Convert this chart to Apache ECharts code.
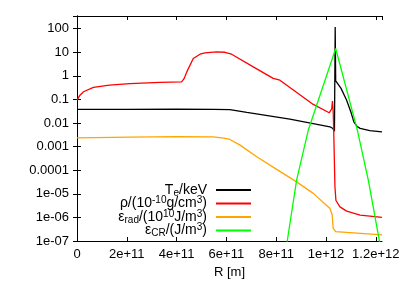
<!DOCTYPE html>
<html>
<head>
<meta charset="utf-8">
<script src="https://cdn.jsdelivr.net/npm/echarts@6/dist/echarts.min.js"></script>
<style>
html,body{margin:0;padding:0;background:#fff;}
#chart{width:407px;height:285px;}
</style>
</head>
<body>
<div id="chart"></div>
<script>
// ---- data (x in metres) ----
const teX = [0, 2.0e11, 4.0e11, 5.5e11, 6.14e11, 6.82e11, 8.55e11, 10.16e11, 10.28e11, 10.34e11, 10.37e11, 10.39e11, 10.60e11, 10.83e11, 11.0e11, 11.12e11, 11.24e11, 11.37e11, 11.76e11, 12.25e11];
const teY = [0.0373, 0.0380, 0.0385, 0.0378, 0.0366, 0.028, 0.0145, 0.0069, 0.0058, 0.0045, 117, 0.61, 0.30, 0.092, 0.029, 0.0111, 0.0073, 0.0059, 0.0047, 0.0042];

const rhoX = [0, 0.12e11, 0.26e11, 0.66e11, 1.3e11, 2.13e11, 3.33e11, 4.20e11, 4.30e11, 4.41e11, 4.67e11, 4.94e11, 5.14e11, 5.61e11, 5.94e11, 6.21e11, 7.08e11, 7.88e11, 8.15e11, 8.55e11, 9.49e11, 10.13e11, 10.23e11, 10.26e11, 10.29e11, 10.31e11, 10.36e11, 10.40e11, 10.56e11, 10.83e11, 11.37e11, 12.25e11];
const rhoY = [0.093, 0.15, 0.21, 0.32, 0.40, 0.46, 0.52, 0.55, 0.75, 1.46, 5.4, 8.2, 9.4, 10.2, 9.9, 8.2, 2.37, 0.77, 0.65, 0.32, 0.061, 0.027, 0.040, 0.084, 0.03, 0.005, 2.0e-5, 5.2e-6, 2.8e-6, 1.85e-6, 1.26e-6, 1.0e-6];

const radX = [0, 2.13e11, 4.0e11, 5.47e11, 5.9e11, 6.14e11, 6.55e11, 7.22e11, 8.02e11, 8.82e11, 9.49e11, 10.16e11, 10.25e11, 10.29e11, 10.39e11, 12.25e11];
const radY = [0.00234, 0.0025, 0.00263, 0.00259, 0.0023, 0.0020, 0.00115, 3.7e-4, 1.08e-4, 3.2e-5, 1.04e-5, 2.4e-6, 1.26e-6, 3.4e-7, 2.5e-7, 1.8e-7];

const crX = [8.30e11, 8.45e11, 8.82e11, 9.29e11, 10.39e11, 11.26e11, 11.70e11, 12.14e11, 12.25e11];
const crY = [1.6e-8, 1.1e-7, 3.8e-5, 0.005, 14.3, 0.005, 3.8e-5, 1.1e-7, 2.6e-8];

const xTickValues = [0, 2e11, 4e11, 6e11, 8e11, 1e12, 1.2e12];
const xTickLabels = ['0', '2e+11', '4e+11', '6e+11', '8e+11', '1e+12', '1.2e+12'];
const yTickLabels = ['1e-07', '1e-06', '1e-05', '0.0001', '0.001', '0.01', '0.1', '1', '10', '100'];

const seriesNames = ['Te', 'rho', 'rad', 'cr'];
const legendRich = {
  Te: 'T{sub|e}/keV',
  rho: 'ρ/(10{sup|-10}g/cm{sup|3})',
  rad: 'ε{sub|rad}/(10{sup|10}J/m{sup|3})',
  cr: 'ε{sub|CR}/(J/m{sup|3})'
};
const colors = ['#000000', '#ff0000', '#ffa500', '#00ff00'];

function pairs(xs, ys) { return xs.map((x, i) => [x, ys[i]]); }

const FONT = 'Liberation Sans';
const chart = echarts.init(document.getElementById('chart'), null, {renderer: 'canvas'});

const axisLineStyle = {show: true, lineStyle: {color: '#000', width: 1}};
const tickStyle = {show: true, inside: true, length: 4, lineStyle: {color: '#000', width: 1}};

function xLabel(v) {
  for (let i = 0; i < xTickValues.length; i++) {
    if (Math.abs(v - xTickValues[i]) < 1e6) return xTickLabels[i];
  }
  return '';
}
function yLabel(v) {
  const l = Math.log10(v);
  const e = Math.round(l);
  if (Math.abs(l - e) > 1e-6) return '';
  const idx = e + 7;
  return (idx >= 0 && idx < yTickLabels.length) ? yTickLabels[idx] : '';
}

const option = {
  backgroundColor: '#fff',
  animation: false,
  textStyle: {fontFamily: FONT},
  grid: {left: 77, right: 25, top: 16, bottom: 44, containLabel: false, outerBoundsMode: 'none'},
  legend: {
    data: seriesNames,
    orient: 'vertical',
    align: 'right',
    right: 156,
    top: 182,
    padding: 0,
    itemWidth: 35,
    itemHeight: 2,
    itemGap: -2.5,
    icon: 'rect',
    selectedMode: false,
    formatter: function (name) { return legendRich[name]; },
    textStyle: {
      fontFamily: FONT, fontSize: 14, color: '#000', lineHeight: 16,
      padding: [0, 4, 0, 0],
      rich: {
        sub: {fontFamily: FONT, fontSize: 10, lineHeight: 7, verticalAlign: 'bottom', color: '#000'},
        sup: {fontFamily: FONT, fontSize: 10, lineHeight: 7, verticalAlign: 'top', color: '#000'}
      }
    }
  },
  xAxis: [{
    type: 'value', min: 0, max: 1.225e12, interval: 2e11,
    name: 'R [m]', nameLocation: 'middle', nameGap: 22,
    nameTextStyle: {fontFamily: FONT, fontSize: 13, color: '#000'},
    axisLine: axisLineStyle, axisTick: tickStyle, splitLine: {show: false},
    axisLabel: {fontFamily: FONT, fontSize: 13, color: '#000', margin: 7, formatter: xLabel, showMaxLabel: false}
  }, {
    type: 'value', min: 0, max: 1.225e12, interval: 2e11, position: 'top',
    axisLine: axisLineStyle, axisTick: tickStyle, splitLine: {show: false},
    axisLabel: {show: false}
  }],
  yAxis: [{
    type: 'log', logBase: 10, min: 1e-7, max: 340,
    axisLine: axisLineStyle, axisTick: tickStyle, splitLine: {show: false},
    axisLabel: {fontFamily: FONT, fontSize: 13, color: '#000', margin: 8, formatter: yLabel, showMaxLabel: false}
  }, {
    type: 'log', logBase: 10, min: 1e-7, max: 340, position: 'right',
    axisLine: axisLineStyle, axisTick: tickStyle, splitLine: {show: false},
    axisLabel: {show: false}
  }],
  series: [
    {name: 'Te', type: 'line', data: pairs(teX, teY)},
    {name: 'rho', type: 'line', data: pairs(rhoX, rhoY)},
    {name: 'rad', type: 'line', data: pairs(radX, radY)},
    {name: 'cr', type: 'line', data: pairs(crX, crY)}
  ].map((s, i) => Object.assign(s, {
    xAxisIndex: 0, yAxisIndex: 0, showSymbol: false, symbol: 'none', clip: true,
    color: colors[i], lineStyle: {color: colors[i], width: 1.3}, itemStyle: {color: colors[i]}
  }))
};
chart.setOption(option);
</script>
</body>
</html>
